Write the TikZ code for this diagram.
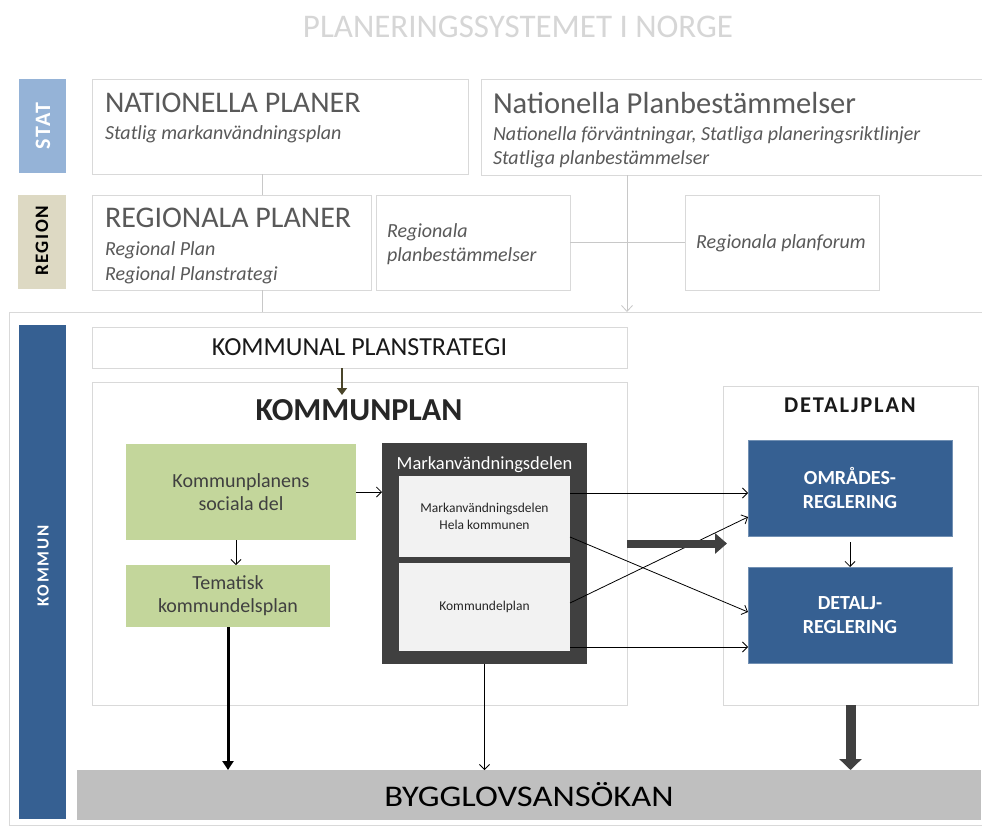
\documentclass[tikz,border=0pt]{standalone}
\usepackage{fontspec}
\setmainfont{Carlito}
\usetikzlibrary{arrows.meta,calc}
\definecolor{boxgray}{HTML}{D9D9D9}
\definecolor{titlegray}{HTML}{D6D6D6}
\definecolor{textgray}{HTML}{595959}
\definecolor{statblue}{HTML}{95B3D7}
\definecolor{regbeige}{HTML}{DDD9C3}
\definecolor{kblue}{HTML}{366092}
\definecolor{kgreen}{HTML}{C3D69B}
\definecolor{kdark}{HTML}{404040}
\definecolor{klight}{HTML}{F2F2F2}
\definecolor{kbygg}{HTML}{BFBFBF}
\definecolor{olive}{HTML}{4A452A}
\definecolor{linegray}{HTML}{C8C8C8}
\tikzset{
  gbox/.style={draw=boxgray, line width=0.8pt, fill=white, inner sep=0pt, outer sep=0pt},
  fbox/.style={inner sep=0pt, outer sep=0pt},
  txt/.style={inner sep=0pt, outer sep=0pt, anchor=base west, text=textgray},
  ctxt/.style={inner sep=0pt, outer sep=0pt, anchor=base},
  thinarrow/.style={draw=black, line width=0.8pt, -{Straight Barb[length=5pt,width=10pt]}},
  grayline/.style={draw=linegray, line width=0.8pt},
  grayarrow/.style={draw=linegray, line width=0.8pt, -{Straight Barb[length=6pt,width=11pt]}},
}
\begin{document}
\begin{tikzpicture}[x=1pt,y=-1pt]
\useasboundingbox (0,0) rectangle (982,827);
\fill[white] (0,0) rectangle (982,827);

% title
\node[ctxt, text=titlegray, font=\fontsize{33}{38}\selectfont] (title) at (518,37) {PLANERINGSSYSTEMET I NORGE};

% kommun frame
\node[gbox, minimum width=990, minimum height=513, anchor=north west] (kframe) at (9,312) {};

% left labels
\node[fbox, fill=statblue, minimum width=47, minimum height=94] (stat) at (42.5,126) {};
\node[ctxt, anchor=center, rotate=90, text=white, font=\fontsize{22}{24}\selectfont\bfseries\addfontfeature{LetterSpace=8}] (statt) at (43,126) {STAT};
\node[fbox, fill=regbeige, minimum width=48, minimum height=94] (region) at (42,242) {};
\node[ctxt, anchor=center, rotate=90, text=black, font=\fontsize{19}{22}\selectfont\bfseries\addfontfeature{LetterSpace=8}] (regiont) at (42,241) {REGION};
\node[fbox, fill=kblue, minimum width=47, minimum height=494] (kbar) at (42.5,572) {};
\node[ctxt, anchor=center, rotate=90, text=white, font=\fontsize{17}{20}\selectfont\bfseries\addfontfeature{LetterSpace=10}] (kbart) at (43,566) {KOMMUN};

% state level
\node[gbox, minimum width=376, minimum height=95] (natpl) at (280,126.5) {};
\node[txt, font=\fontsize{30}{34}\selectfont] (natplt) at (105,112) {NATIONELLA PLANER};
\node[txt, font=\fontsize{20}{22}\selectfont\itshape] (natpls) at (105,139) {Statlig markanvändningsplan};

\node[gbox, minimum width=520, minimum height=96, anchor=north west] (natbest) at (481,79) {};
\node[txt, font=\fontsize{30.5}{34}\selectfont] (natbestt) at (493,113) {Nationella Planbestämmelser};
\node[txt, font=\fontsize{20}{22}\selectfont\itshape] (natbests1) at (493,140) {Nationella förväntningar, Statliga planeringsriktlinjer};
\node[txt, font=\fontsize{20}{22}\selectfont\itshape] (natbests2) at (493,164) {Statliga planbestämmelser};

% region level
\node[gbox, minimum width=279, minimum height=95] (regpl) at (231.5,242.5) {};
\node[txt, font=\fontsize{30}{34}\selectfont] (regplt) at (105,227) {REGIONALA PLANER};
\node[txt, font=\fontsize{20}{22}\selectfont\itshape] (regpls1) at (105,255) {Regional Plan};
\node[txt, font=\fontsize{20}{22}\selectfont\itshape] (regpls2) at (105,280) {Regional Planstrategi};

\node[gbox, minimum width=194, minimum height=95] (regbest) at (473,242.5) {};
\node[txt, font=\fontsize{20}{22}\selectfont\itshape] (regbest1) at (387,237) {Regionala};
\node[txt, font=\fontsize{20}{22}\selectfont\itshape] (regbest2) at (387,261) {planbestämmelser};

\node[gbox, minimum width=194, minimum height=95] (regforum) at (782,242.5) {};
\node[ctxt, text=textgray, font=\fontsize{20}{22}\selectfont\itshape] (regforumt) at (781,248) {Regionala planforum};

% state/region connectors
\coordinate (natdown) at ($(natpl.south west)+(170,0)$);
\draw[grayline] (natdown) -- (natdown |- regpl.north);
\coordinate (regdown) at ($(regpl.south west)+(170,0)$);
\draw[grayline] (regdown) -- (regdown |- kframe.north);
\draw[grayline] (regbest.east) -- (regforum.west);
\coordinate (bestdown) at ($(natbest.south west)+(146,0)$);
\draw[grayarrow] (bestdown) -- (bestdown |- kframe.north);

% kommun level
\node[gbox, minimum width=535, minimum height=41, text=black!90, font=\fontsize{26}{28}\selectfont] (kps) at (359.5,347.5) {KOMMUNAL PLANSTRATEGI};
\node[gbox, minimum width=535, minimum height=323] (kp) at (359.5,543.5) {};
\node[ctxt, text=black!85, font=\fontsize{32}{34}\selectfont\bfseries] (kpt) at (359,420) {KOMMUNPLAN};
\coordinate (kpsout) at ($(kps.south west)+(250,0)$);
\coordinate (kpin) at ($(kps.south west)+(250,27)$);
\draw[draw=olive, line width=2.6pt, -{Triangle[length=7pt,width=10pt]}] (kpsout) -- (kpin);

\node[gbox, minimum width=255, minimum height=319] (dp) at (850.5,545.5) {};
\node[ctxt, text=black!90, font=\fontsize{22.5}{24}\selectfont\bfseries\addfontfeature{LetterSpace=8}] (dpt) at (850,412) {DETALJPLAN};

\node[fbox, fill=kgreen, minimum width=230, minimum height=96, align=center, text=kdark, font=\fontsize{20}{23.5}\selectfont] (social) at (241,492) {Kommunplanens\\sociala del};
\node[fbox, fill=kgreen, minimum width=204, minimum height=62, align=center, text=kdark, font=\fontsize{20}{23}\selectfont] (tema) at (228,596) {Tematisk\\kommundelsplan};

\node[fbox, fill=kdark, minimum width=205, minimum height=221] (mark) at (484.5,553.5) {};
\node[ctxt, text=white, font=\fontsize{18.5}{20}\selectfont] (markt) at (484.5,469) {Markanvändningsdelen};
\node[fbox, fill=klight, minimum width=171, minimum height=81, align=center, text=black!85, font=\fontsize{13.5}{17}\selectfont] (in1) at (484.5,516.5) {Markanvändningsdelen\\Hela kommunen};
\node[fbox, fill=klight, minimum width=171, minimum height=88, align=center, text=black!85, font=\fontsize{13.5}{17}\selectfont] (in2) at (484.5,607) {Kommundelplan};

\node[fbox, fill=kblue, draw=kblue!70, line width=0.6pt, minimum width=204, minimum height=96, align=center, text=white, font=\fontsize{20}{24}\selectfont\bfseries] (omr) at (850,488) {OMRÅDES-\\REGLERING};
\node[fbox, fill=kblue, draw=kblue!70, line width=0.6pt, minimum width=204, minimum height=96, align=center, text=white, font=\fontsize{20}{24}\selectfont\bfseries] (det) at (850,615) {DETALJ-\\REGLERING};

\node[fbox, fill=kbygg, minimum width=904, minimum height=50, text=black, font=\fontsize{30}{32}\selectfont] (bygg) at (529,795) {\scalebox{1.15}[1]{BYGGLOVSANSÖKAN}};

% kommun connectors
\draw[thinarrow] (social.east) -- (social.east -| mark.west);
\coordinate (socdown) at ($(social.south west)+(110,0)$);
\draw[thinarrow] (socdown) -- (socdown |- tema.north);
\draw[thinarrow] ($(in1.north east)+(0,17)$) -- ($(omr.north west)+(0,53)$);
\draw[thinarrow] ($(in1.north east)+(0,61)$) -- ($(det.north west)+(0,45)$);
\draw[thinarrow] ($(in2.north east)+(0,40)$) -- ($(omr.north west)+(0,77)$);
\draw[thinarrow] ($(in2.north east)+(0,84)$) -- ($(det.north west)+(0,80)$);
\draw[thinarrow, shorten <=6pt] (omr.south) -- (det.north);
\draw[draw=kdark, line width=8pt, -{Triangle[length=12pt,width=20pt]}] (kp.east) -- ($(kp.east -| dp.west)+(4,0)$);

\draw[draw=black, line width=3pt, -{Triangle[length=9pt,width=11pt]}] (tema.south) -- (tema.south |- bygg.north);
\draw[thinarrow] (mark.south) -- (mark.south |- bygg.north);
\draw[draw=kdark, line width=10pt, -{Triangle[length=11pt,width=22pt]}] (dp.south) -- (dp.south |- bygg.north);
\end{tikzpicture}
\end{document}
